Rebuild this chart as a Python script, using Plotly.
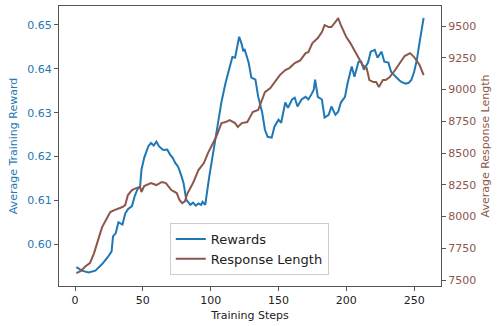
import plotly.graph_objects as go

reward_steps = [1, 5, 10, 15, 20, 24, 27, 28, 30, 32, 35, 37, 39, 42, 44, 46, 48, 49, 51, 54, 56, 58, 60,
                62, 65, 68, 70, 72, 74, 76, 78, 80, 82, 83, 85, 87, 89, 91, 93, 94, 96, 99, 101, 104,
                106, 108, 111, 113, 116, 118, 120, 121, 123, 124, 125, 127, 128, 130, 133, 135, 138,
                140, 142, 145, 147, 150, 152, 155, 157, 160, 162, 164, 167, 170, 172, 174, 176, 177,
                179, 182, 184, 187, 189, 192, 194, 196, 199, 201, 204, 206, 209, 211, 213, 216, 218,
                221, 223, 226, 228, 231, 233, 237, 240, 242, 244, 246, 248, 250, 252, 254, 256, 257]
reward_vals = [0.5948, 0.5940, 0.5936, 0.5940, 0.5955, 0.5970, 0.5984, 0.6018, 0.6025, 0.6050,
               0.6045, 0.6070, 0.6080, 0.6087, 0.6110, 0.6125, 0.6132, 0.6170, 0.6197, 0.6223,
               0.6231, 0.6225, 0.6234, 0.6223, 0.6215, 0.6216, 0.6205, 0.6197, 0.6185, 0.6177,
               0.6160, 0.6140, 0.6102, 0.6098, 0.6090, 0.6095, 0.6088, 0.6093, 0.6090, 0.6097,
               0.6090, 0.6155, 0.6193, 0.6245, 0.6291, 0.6325, 0.6368, 0.6393, 0.6427, 0.6425,
               0.6460, 0.6473, 0.6455, 0.6440, 0.6445, 0.6420, 0.6414, 0.6380, 0.6375, 0.6337,
               0.6300, 0.6261, 0.6245, 0.6243, 0.6268, 0.6284, 0.6277, 0.6323, 0.6311, 0.6330,
               0.6334, 0.6314, 0.6330, 0.6336, 0.6330, 0.6340, 0.6352, 0.6375, 0.6336, 0.6330,
               0.6289, 0.6295, 0.6314, 0.6295, 0.6302, 0.6323, 0.6336, 0.6368, 0.6405, 0.6382,
               0.6416, 0.6416, 0.6398, 0.6414, 0.6439, 0.6443, 0.6425, 0.6439, 0.6416, 0.6414,
               0.6393, 0.6380, 0.6371, 0.6368, 0.6366, 0.6368, 0.6375, 0.6393, 0.6420, 0.6460,
               0.6500, 0.6516]

length_steps = [1, 4, 8, 11, 14, 16, 18, 20, 23, 26, 29, 32, 35, 37, 39, 42, 45, 48, 49, 51, 53,
                56, 60, 64, 67, 71, 75, 77, 79, 81, 83, 87, 91, 95, 98, 101, 104, 106, 108, 111,
                114, 118, 120, 123, 127, 129, 131, 135, 137, 140, 144, 147, 151, 155, 158, 162,
                166, 170, 172, 175, 177, 179, 182, 184, 187, 189, 192, 194, 196, 198, 200, 203,
                205, 208, 210, 212, 215, 217, 220, 222, 224, 227, 229, 232, 236, 240, 243, 247,
                250, 254, 257]
length_vals = [7555, 7570, 7610, 7634, 7710, 7791, 7850, 7917, 7980, 8035, 8051, 8060, 8075, 8090,
               8169, 8209, 8224, 8232, 8193, 8240, 8248, 8264, 8248, 8272, 8264, 8209, 8185, 8130,
               8106, 8120, 8185, 8264, 8366, 8421, 8500, 8563, 8626, 8681, 8736, 8744, 8760, 8736,
               8705, 8736, 8744, 8783, 8823, 8839, 8894, 8980, 9012, 9059, 9114, 9154, 9169, 9209,
               9230, 9287, 9295, 9366, 9390, 9406, 9453, 9508, 9492, 9492, 9532, 9563, 9508, 9453,
               9413, 9366, 9327, 9272, 9232, 9193, 9169, 9075, 9059, 9059, 9020, 9075, 9075, 9098,
               9154, 9217, 9264, 9287, 9256, 9193, 9114]

x_ticks = [0, 50, 100, 150, 200, 250]
reward_ticks = [0.60, 0.61, 0.62, 0.63, 0.64, 0.65]
length_ticks = [7500, 7750, 8000, 8250, 8500, 8750, 9000, 9250, 9500]

BLUE = "#1f77b4"
BROWN = "#8c564b"
FONT = "DejaVu Sans"
SPINE = "#555555"

fig = go.Figure()
fig.add_trace(go.Scatter(x=reward_steps, y=reward_vals, mode="lines", name="Rewards",
                         line=dict(color=BLUE, width=2), yaxis="y"))
fig.add_trace(go.Scatter(x=length_steps, y=length_vals, mode="lines", name="Response Length",
                         line=dict(color=BROWN, width=2), yaxis="y2"))

fig.update_layout(
    width=500, height=326,
    margin=dict(l=59, r=59, t=6, b=40),
    paper_bgcolor="white", plot_bgcolor="white",
    font=dict(family=FONT, size=11, color="#222"),
    xaxis=dict(range=[-11.8, 269.8], tickvals=x_ticks, showgrid=False, zeroline=False,
               showline=True, linecolor=SPINE, linewidth=1, mirror=True,
               ticks="outside", ticklen=4, tickcolor=SPINE,
               title=dict(text="Training Steps", standoff=5, font=dict(size=11)),
               tickfont=dict(size=11, color="#222")),
    yaxis=dict(range=[0.5905, 0.6543], tickvals=reward_ticks, tickformat=".2f",
               showgrid=False, zeroline=False,
               showline=True, linecolor=SPINE, linewidth=1,
               ticks="outside", ticklen=4, tickcolor=SPINE,
               title=dict(text="Average Training Reward", standoff=7, font=dict(size=11, color=BLUE)),
               tickfont=dict(size=11, color=BLUE)),
    yaxis2=dict(range=[7453, 9658], tickvals=length_ticks, overlaying="y", side="right",
                showgrid=False, zeroline=False,
                showline=True, linecolor=SPINE, linewidth=1,
                ticks="outside", ticklen=4, tickcolor=SPINE,
                title=dict(text="Average Response Length", standoff=6, font=dict(size=11, color=BROWN)),
                tickfont=dict(size=11, color=BROWN)),
    legend=dict(x=0.29, y=0.225, xanchor="left", yanchor="top",
                bgcolor="rgba(255,255,255,0.8)", bordercolor="#cccccc", borderwidth=1,
                font=dict(size=13, color="#222")),
    showlegend=True,
)

fig.write_html("out.html")
